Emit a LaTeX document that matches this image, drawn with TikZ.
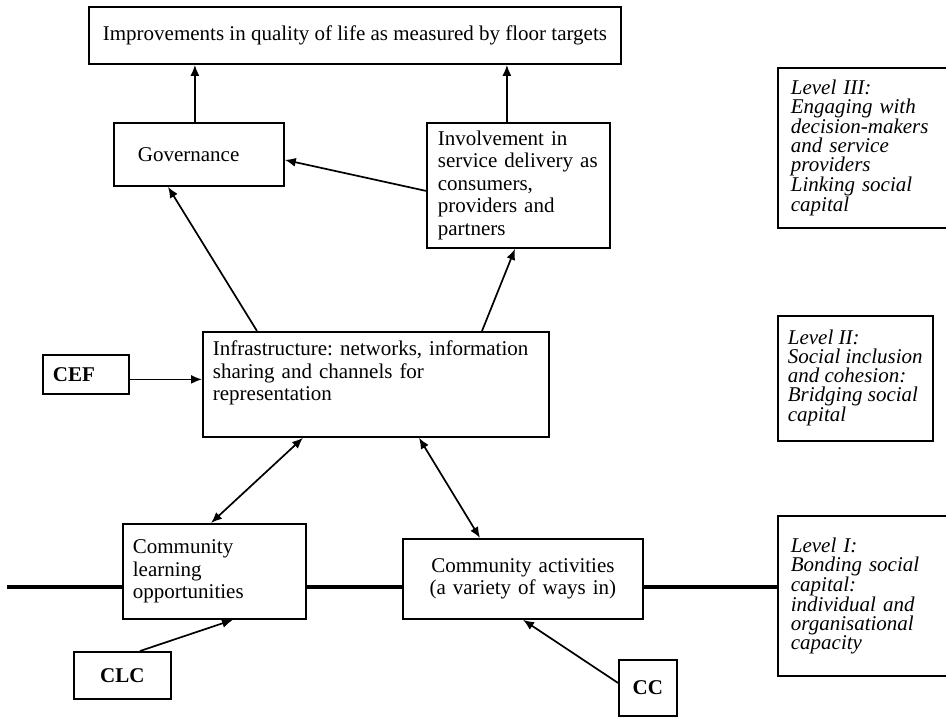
\documentclass[tikz,border=0pt]{standalone}
\usepackage{fontspec}
\setmainfont{Liberation Serif}
\usetikzlibrary{arrows.meta}

\newcommand{\bodysize}{\fontsize{21}{22.5}\selectfont\frenchspacing}

\tikzset{
  box/.style={draw, line width=1.8pt, fill=white, anchor=north west, align=left, inner xsep=10pt, inner ysep=0pt, font=\bodysize},
  lvl/.style={box, font=\bodysize\itshape\fontsize{21}{19}\selectfont, inner xsep=13pt},
  tag/.style={box, font=\bodysize\bfseries, align=center},
  arr/.style={-{Latex[length=11pt,width=9pt]}, line width=1.7pt},
  twoway/.style={{Latex[length=11pt,width=9pt]}-{Latex[length=11pt,width=9pt]}, line width=1.7pt},
  axis/.style={line width=4pt}
}

\begin{document}
\begin{tikzpicture}[x=1pt, y=-1pt]
\useasboundingbox (0,0) rectangle (946,717);
% levels on the right
\node[lvl, text width=160pt, minimum height=160pt] (lev3) at (777,67) {Level III:\\ Engaging with\\ decision-makers\\ and service\\ providers\\ Linking social\\ capital};
\node[lvl, inner xsep=10pt, minimum height=125pt] (lev2) at (777,315) {Level II:\\ Social inclusion\\ and cohesion:\\ Bridging social\\ capital};
\node[lvl, text width=160pt, minimum height=160pt] (lev1) at (777,515) {Level I:\\ Bonding social\\ capital:\\ individual and\\ organisational\\ capacity};
% base line
\coordinate (lineL) at (7,587);
\draw[axis] (lineL) -- (lineL -| lev1.west);
% boxes
\node[box, align=center, inner xsep=14pt, minimum height=57pt] (goal) at (88,6) {Improvements in quality of life as measured by floor targets};
\node[box, inner xsep=24pt, text width=122pt, minimum height=63pt] (gov) at (113,122) {Governance};
\node[box, inner xsep=11pt, text width=161pt, minimum height=125pt] (inv) at (426,122) {Involvement in\\ service delivery as\\ consumers,\\ providers and\\ partners};
\node[box, text width=326pt, text height=15pt, text depth=72pt, inner ysep=9pt] (infra) at (202,331) {Infrastructure: networks, information\\ sharing and channels for\\ representation};
\node[tag, align=left, text width=66pt, minimum height=39pt] (cef) at (42,354) {CEF};
\node[box, text width=163pt, minimum height=95pt] (learn) at (122,523) {Community\\ learning\\ opportunities};
\node[box, align=center, text width=220pt, minimum height=80pt] (act) at (402,538) {Community activities\\ (a variety of ways in)};
\node[tag, text width=77pt, minimum height=47pt] (clc) at (73,651) {CLC};
\node[tag, inner xsep=4pt, text width=50pt, minimum height=56pt] (cc) at (618,659) {CC};
% connectors
\draw[arr] ([xshift=-4pt]gov.north) -- ([xshift=-4pt]gov.north |- goal.south);
\draw[arr] ([xshift=-11.5pt]inv.north) -- ([xshift=-11.5pt]inv.north |- goal.south);
\draw[arr] ([yshift=-5.5pt]inv.west) -- ([yshift=-5.5pt]gov.east);
\draw[arr] ([xshift=55pt]infra.north west) -- ([xshift=55pt]gov.south west);
\draw[arr] ([xshift=280pt]infra.north west) -- ([xshift=89pt]inv.south west);
\draw[arr] ([yshift=-5pt]cef.east) -- ([yshift=-5pt]cef.east -| infra.west);
\draw[twoway] ([xshift=101pt]infra.south west) -- ([xshift=89pt]learn.north west);
\draw[twoway] ([xshift=217pt]infra.south west) -- ([xshift=78pt]act.north west);
\draw[arr] ([xshift=67pt]clc.north west) -- ([xshift=111pt]learn.south west);
\draw[arr] ([yshift=5pt]cc.west) -- ([xshift=121pt]act.south west);
\end{tikzpicture}
\end{document}
